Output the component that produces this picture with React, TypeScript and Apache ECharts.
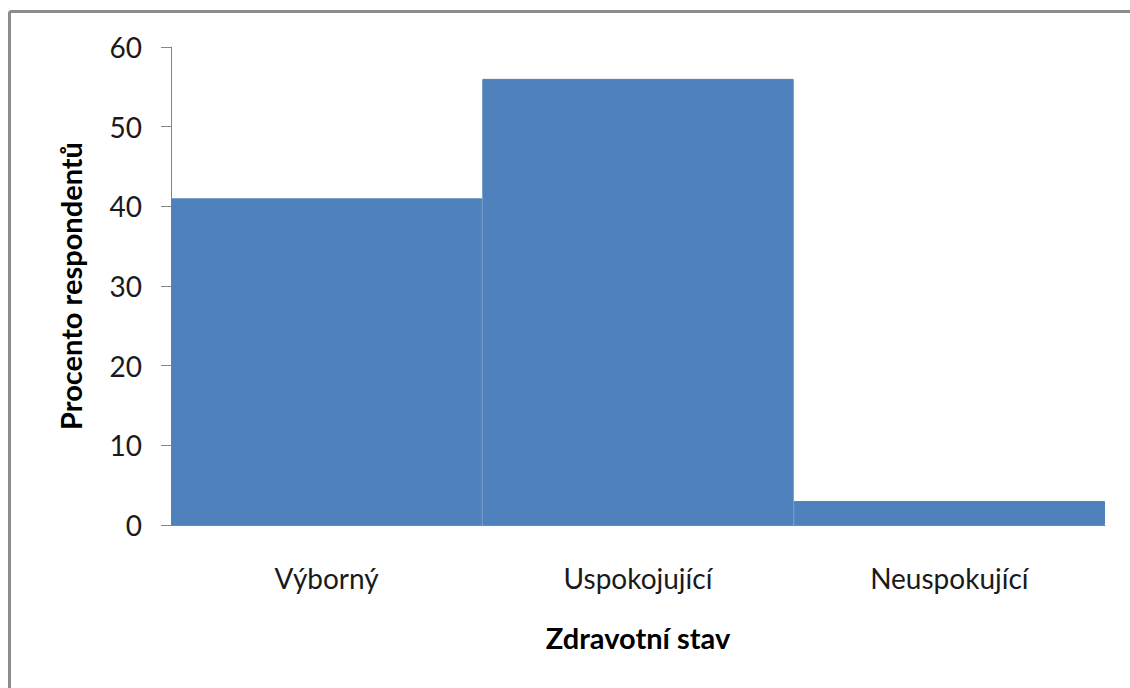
import React, { useEffect, useRef } from "react";
import * as echarts from "echarts";

const categories = ["Výborný", "Uspokojující", "Neuspokující"];
const values = [41, 56, 3];
const yAxisTitle = "Procento respondentů";
const xAxisTitle = "Zdravotní stav";

export default function App() {
  const ref = useRef<HTMLDivElement>(null);
  useEffect(() => {
    document.body.style.margin = "0";
    const chart = echarts.init(ref.current!, undefined, { renderer: "svg" });
    const font = "Lato, 'Open Sans', sans-serif";
    chart.setOption({
      animation: false,
      backgroundColor: "#ffffff",
      textStyle: { fontFamily: font },
      grid: { left: 171, right: 25, top: 47, bottom: 163, containLabel: false },
      graphic: [
        { type: "line", shape: { x1: 9.5, y1: 11.5, x2: 1130, y2: 11.5 }, style: { stroke: "#8c8c8c", lineWidth: 3 } },
        { type: "line", shape: { x1: 9.5, y1: 11.5, x2: 9.5, y2: 688 }, style: { stroke: "#8c8c8c", lineWidth: 3 } },
      ],
      xAxis: {
        type: "category",
        data: categories,
        axisLine: { show: true, lineStyle: { color: "#868686", width: 1 } },
        axisTick: { show: false },
        axisLabel: { color: "#1a1a1a", fontSize: 28, margin: 39, fontFamily: font },
        name: xAxisTitle,
        nameLocation: "middle",
        nameGap: 98,
        nameTextStyle: { color: "#000", fontSize: 29, fontWeight: "bold", fontFamily: font, verticalAlign: "top" },
      },
      yAxis: {
        type: "value",
        min: 0,
        max: 60,
        interval: 10,
        axisLine: { show: true, lineStyle: { color: "#868686", width: 1 } },
        axisTick: { show: true, length: 10, lineStyle: { color: "#868686" } },
        splitLine: { show: false },
        axisLabel: { color: "#1a1a1a", fontSize: 28, margin: 29, fontFamily: font },
        name: yAxisTitle,
        nameLocation: "middle",
        nameRotate: 90,
        nameGap: 86,
        nameTextStyle: { color: "#000", fontSize: 29, fontWeight: "bold", fontFamily: font },
      },
      series: [
        {
          type: "bar",
          data: values,
          barWidth: "100%",
          barCategoryGap: "0%",
          itemStyle: { color: "#4F81BD", borderColor: "#4F81BD", borderWidth: 1 },
        },
      ],
    });
    return () => chart.dispose();
  }, []);
  return <div ref={ref} style={{ width: 1130, height: 688 }} />;
}
